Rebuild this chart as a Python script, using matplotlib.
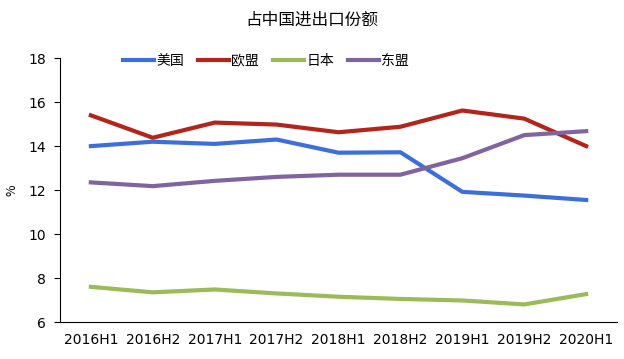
import matplotlib
matplotlib.use("Agg")
import matplotlib.pyplot as plt

plt.rcParams['font.family'] = ['Noto Sans CJK SC', 'DejaVu Sans']

periods = ['2016H1', '2016H2', '2017H1', '2017H2', '2018H1',
           '2018H2', '2019H1', '2019H2', '2020H1']
us = [14.0, 14.2, 14.1, 14.3, 13.7, 13.72, 11.92, 11.75, 11.55]
eu = [15.4, 14.38, 15.07, 14.98, 14.63, 14.88, 15.62, 15.25, 14.0]
japan = [7.6, 7.35, 7.48, 7.3, 7.15, 7.05, 6.98, 6.8, 7.27]
asean = [12.35, 12.18, 12.42, 12.6, 12.7, 12.7, 13.45, 14.5, 14.68]

fig = plt.figure(figsize=(6.24, 3.59), dpi=100)
ax = fig.add_axes([0.096, 0.103, 0.893, 0.735])

x = range(len(periods))
ax.plot(x, us, color='#3D6FDC', lw=3, label='美国')
ax.plot(x, eu, color='#B3241A', lw=3, label='欧盟')
ax.plot(x, japan, color='#9BBB59', lw=3, label='日本')
ax.plot(x, asean, color='#7F64A0', lw=3, label='东盟')

ax.set_xlim(-0.5, 8.5)
ax.set_ylim(6, 18)
ax.set_yticks([6, 8, 10, 12, 14, 16, 18])
ax.set_xticks(list(x))
ax.set_xticklabels(periods)
for lab in ax.get_xticklabels() + ax.get_yticklabels():
    lab.set_family('DejaVu Sans')
    lab.set_fontsize(10)
ax.tick_params(axis='x', length=0, pad=8)
ax.tick_params(axis='y', length=4, direction='out', pad=6)
ax.spines['top'].set_visible(False)
ax.spines['right'].set_visible(False)
fig.text(0.02, 0.47, '%', rotation=90, fontsize=9, ha='center', va='center')

ax.legend(loc='center', bbox_to_anchor=(0.37, 0.99), ncol=4, frameon=False,
          fontsize=10, handlelength=2.2, handletextpad=0.2, columnspacing=1.0)
fig.text(0.5, 0.945, '占中国进出口份额', ha='center', va='center', fontsize=12)

fig.savefig('out.png', dpi=100)
